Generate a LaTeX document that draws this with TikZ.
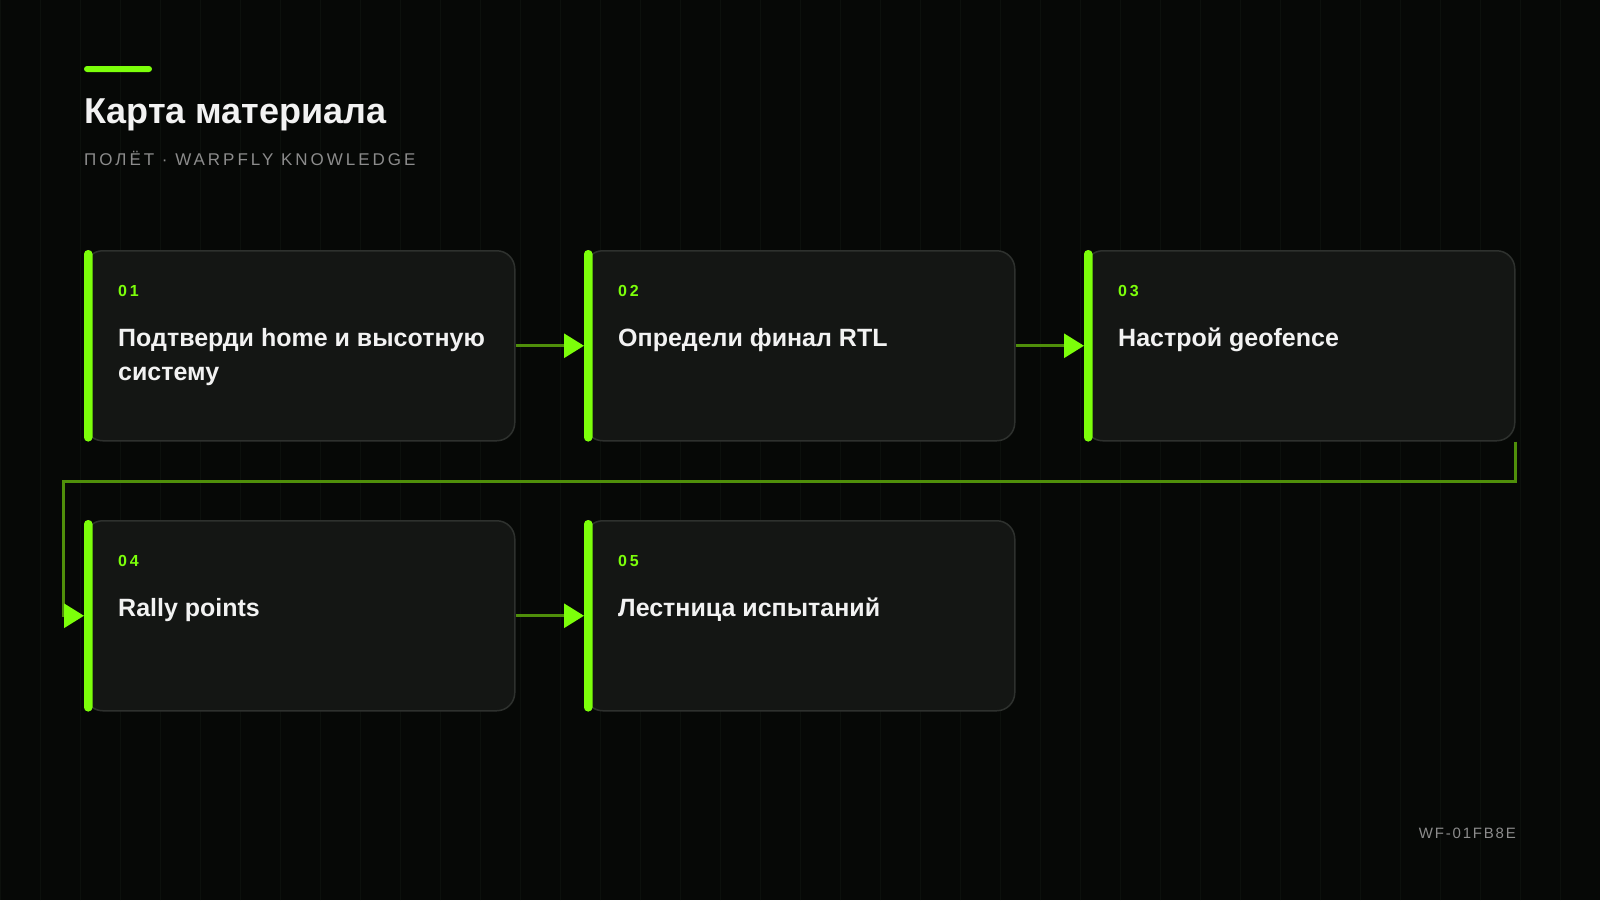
\documentclass[tikz,border=0pt]{standalone}
\usepackage{fontspec}
\setmainfont{Liberation Sans}
\newfontfamily\subfont[LetterSpace=17.5]{Liberation Sans}
\newfontfamily\numfont[LetterSpace=18]{Liberation Sans Bold}
\newfontfamily\footfont[LetterSpace=12]{Liberation Sans}
\usetikzlibrary{arrows.meta}
\definecolor{bg}{HTML}{060806}
\definecolor{gridc}{HTML}{0C100C}
\definecolor{boxfill}{HTML}{141614}
\definecolor{boxline}{HTML}{2E312E}
\definecolor{neon}{HTML}{7CFF0A}
\definecolor{connc}{HTML}{4F8F0A}
\definecolor{txt}{HTML}{F2F2F2}
\definecolor{subc}{HTML}{8C8C8C}
\tikzset{
  stepbox/.style={draw=boxline, line width=1.5pt, fill=boxfill, rounded corners=18pt,
    minimum width=430pt, minimum height=190pt, inner sep=0pt, anchor=north west},
  numlabel/.style={anchor=base west, inner sep=0pt, text=neon, font=\numfont\fontsize{16}{19}\selectfont},
  titlelabel/.style={anchor=base west, inner sep=0pt, text=txt, align=left,
    font=\bfseries\fontsize{25}{34.5}\selectfont},
  conn/.style={draw=connc, line width=3pt, -{Triangle[length=20pt,width=24pt,color=neon]}},
  accentbar/.style={fill=neon, rounded corners=4pt},
}
% #1 id, #2 x, #3 y, #4 number, #5 extra baseline shift (lines below first), #6 title
\newcommand{\flowstep}[6]{%
  \node[stepbox] (b#1) at (#2,#3) {};
  \fill[accentbar] (b#1.north west) rectangle ([xshift=8.5pt]b#1.south west);
  \node[numlabel] (n#1) at (#2+34,#3+46.7) {#4};
  \node[titlelabel] (t#1) at (#2+34,#3+96+#5) {#6};
}
\begin{document}
\begin{tikzpicture}[x=1pt,y=-1pt]
\useasboundingbox (0,0) rectangle (1600,900);
\fill[bg] (0,0) rectangle (1600,900);
\draw[gridc, line width=1pt, step=40] (0,0) grid (1600,900);
% header
\fill[accentbar, rounded corners=3pt] (84,66) rectangle (152,72);
\node[anchor=base west, inner sep=0pt, text=txt, font=\bfseries\fontsize{36}{42}\selectfont] (title) at (84,123) {Карта материала};
\node[anchor=base west, inner sep=0pt, text=subc, font=\subfont\fontsize{17}{20}\selectfont] (subtitle) at (84,165) {ПОЛЁТ · WARPFLY KNOWLEDGE};
% steps
\flowstep{1}{84}{250}{01}{34.5}{Подтверди home и высотную\\систему}
\flowstep{2}{584}{250}{02}{0}{Определи финал RTL}
\flowstep{3}{1084}{250}{03}{0}{Настрой geofence}
\flowstep{4}{84}{520}{04}{0}{Rally points}
\flowstep{5}{584}{520}{05}{0}{Лестница испытаний}
% connectors
\draw[conn] (b1.east) -- (b2.west);
\draw[conn] (b2.east) -- (b3.west);
\coordinate (turn) at ([yshift=-40pt]b3.south east);
\draw[conn] (b3.south east) -- (turn) -| ([xshift=-21pt]b4.west) -- (b4.west);
\draw[conn] (b4.east) -- (b5.west);
% footer
\node[anchor=base east, inner sep=0pt, text=subc, font=\footfont\fontsize{15}{18}\selectfont] (footer) at (1516,838.3) {WF-01FB8E};
\end{tikzpicture}
\end{document}
